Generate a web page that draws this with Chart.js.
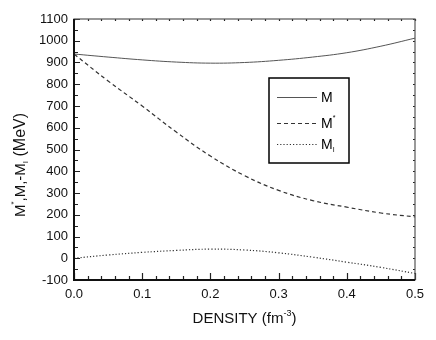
<!DOCTYPE html>
<html><head><meta charset="utf-8">
<script src="https://cdn.jsdelivr.net/npm/chart.js@4/dist/chart.umd.min.js"></script>
<style>html,body{margin:0;padding:0;background:#fff}</style>
</head><body>
<canvas id="c" width="436" height="340" style="width:436px;height:340px;display:block"></canvas>
<script>
const density   = [0, 0.05, 0.10, 0.15, 0.20, 0.25, 0.30, 0.35, 0.40, 0.45, 0.50];
const massM     = [939, 925, 912, 902, 897, 900, 910, 925, 945, 975, 1012];
const massMStar = [939, 815, 700, 580, 470, 380, 312, 265, 235, 208, 190];
const massMI    = [0, 15, 27, 36, 42, 38, 25, 5, -18, -42, -70];
const xTickValues = [0, 0.1, 0.2, 0.3, 0.4, 0.5];
const yTickValues = [-100, 0, 100, 200, 300, 400, 500, 600, 700, 800, 900, 1000, 1100];

const FONT = '"Liberation Sans", Arial, Helvetica, sans-serif';
const pts = ys => density.map((x, i) => ({x, y: ys[i]}));

function drawRich(ctx, parts, x, y, align) {
  let total = 0;
  parts.forEach(p => { ctx.font = p.size + 'px ' + FONT; p.w = ctx.measureText(p.t).width; total += p.w; });
  let cx = align === 'center' ? x - total / 2 : x;
  parts.forEach(p => {
    ctx.font = p.size + 'px ' + FONT;
    ctx.fillText(p.t, cx, y + (p.dy || 0));
    cx += p.w;
  });
}

const decor = {
  id: 'decor',
  afterDraw(chart) {
    const {ctx, chartArea: a, scales: {x, y}} = chart;
    ctx.save();
    ctx.strokeStyle = '#222';
    ctx.fillStyle = '#111';
    ctx.lineWidth = 1.2;
    for (let i = 0; i <= 25; i++) {
      const v = i * 0.02;
      const px = Math.round(x.getPixelForValue(v)) + 0.5;
      const major = i % 5 === 0;
      ctx.beginPath();
      ctx.moveTo(px, a.bottom); ctx.lineTo(px, a.bottom - (major ? 7 : 4));
      ctx.moveTo(px, a.top); ctx.lineTo(px, a.top + 2);
      ctx.stroke();
    }
    for (let i = 0; i <= 24; i++) {
      const v = -100 + i * 50;
      const py = Math.round(y.getPixelForValue(v)) + 0.5;
      const major = i % 2 === 0;
      ctx.beginPath();
      ctx.moveTo(a.left, py); ctx.lineTo(a.left + (major ? 6 : 4), py);
      ctx.moveTo(a.right, py); ctx.lineTo(a.right - 2, py);
      ctx.stroke();
    }
    ctx.lineWidth = 1.2;
    ctx.strokeStyle = '#555';
    ctx.strokeRect(a.left, a.top, a.right - a.left, a.bottom - a.top);
    ctx.lineWidth = 2;
    ctx.strokeStyle = '#111';
    ctx.beginPath();
    ctx.moveTo(a.left, a.top); ctx.lineTo(a.left, a.bottom); ctx.lineTo(a.right, a.bottom);
    ctx.stroke();

    ctx.textBaseline = 'alphabetic';
    drawRich(ctx, [
      {t: 'DENSITY (fm', size: 15},
      {t: '-3', size: 9, dy: -7},
      {t: ')', size: 15}
    ], (a.left + a.right) / 2, 323, 'center');
    ctx.save();
    ctx.translate(25, 165);
    ctx.rotate(-Math.PI / 2);
    drawRich(ctx, [
      {t: 'M', size: 15},
      {t: '*', size: 8, dy: -9},
      {t: ',M,-M', size: 15},
      {t: 'I', size: 8, dy: 3},
      {t: ' (MeV)', size: 16}
    ], 0, 0, 'center');
    ctx.restore();

    const lx = 269, ly = 78, lw = 80, lh = 85;
    ctx.lineWidth = 1.5;
    ctx.strokeStyle = '#000';
    ctx.strokeRect(lx, ly, lw, lh);
    const rows = [
      {ds: chart.data.datasets[0], y: 97, parts: [{t: 'M', size: 14}]},
      {ds: chart.data.datasets[1], y: 123, parts: [{t: 'M', size: 14}, {t: '*', size: 7, dy: -8}]},
      {ds: chart.data.datasets[2], y: 144, parts: [{t: 'M', size: 14}, {t: 'I', size: 7, dy: 3}]}
    ];
    rows.forEach(r => {
      ctx.strokeStyle = r.ds.borderColor;
      ctx.lineWidth = r.ds.borderWidth;
      ctx.setLineDash(r.ds.borderDash || []);
      ctx.beginPath();
      ctx.moveTo(277, r.y + 0.5); ctx.lineTo(317, r.y + 0.5);
      ctx.stroke();
      ctx.setLineDash([]);
      ctx.fillStyle = '#000';
      drawRich(ctx, r.parts, 321, r.y + 5, 'left');
    });
    ctx.restore();
  }
};

new Chart(document.getElementById('c'), {
  type: 'line',
  data: {
    datasets: [
      {label: 'M', data: pts(massM), borderColor: '#555', borderWidth: 1, pointRadius: 0, tension: 0.4, fill: false},
      {label: 'M*', data: pts(massMStar), borderColor: '#333', borderWidth: 1.2, borderDash: [4, 3], pointRadius: 0, tension: 0.4, fill: false},
      {label: 'MI', data: pts(massMI), borderColor: '#333', borderWidth: 1.2, borderDash: [1.2, 2], pointRadius: 0, tension: 0.4, fill: false}
    ]
  },
  options: {
    responsive: false,
    animation: false,
    devicePixelRatio: 1,
    layout: {padding: {top: 19, right: 21, left: 0, bottom: 0}},
    plugins: {legend: {display: false}, tooltip: {enabled: false}},
    scales: {
      x: {
        type: 'linear', min: 0, max: 0.5,
        afterFit(s) { s.height = 60; },
        afterBuildTicks(s) { s.ticks = xTickValues.map(v => ({value: v})); },
        grid: {display: false, drawTicks: false},
        border: {display: false},
        ticks: {padding: 7, color: '#111', font: {size: 13, family: FONT}, callback: v => v.toFixed(1), maxRotation: 0, autoSkip: false}
      },
      y: {
        type: 'linear', min: -100, max: 1100,
        afterFit(s) { s.width = 74; },
        afterBuildTicks(s) { s.ticks = yTickValues.map(v => ({value: v})); },
        grid: {display: false, drawTicks: false},
        border: {display: false},
        ticks: {padding: 6, color: '#111', font: {size: 13, family: FONT}, callback: v => String(v), autoSkip: false}
      }
    }
  },
  plugins: [decor]
});
</script>
</body></html>
